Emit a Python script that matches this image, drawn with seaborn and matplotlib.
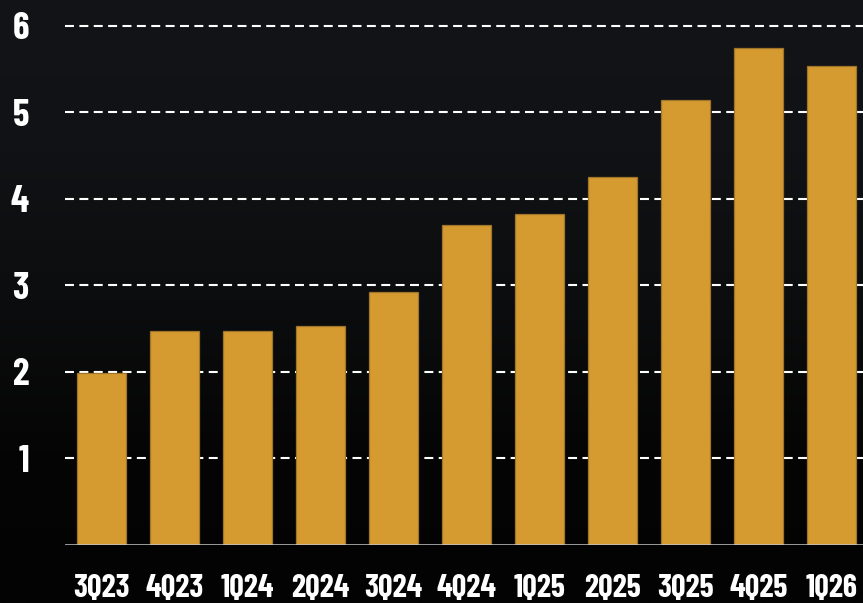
import numpy as np
import pandas as pd
import matplotlib
matplotlib.use("Agg")
import matplotlib.pyplot as plt
from matplotlib import font_manager as fm
from matplotlib.colors import LinearSegmentedColormap
import seaborn as sns

quarters = ["3Q23", "4Q23", "1Q24", "2Q24", "3Q24", "4Q24",
            "1Q25", "2Q25", "3Q25", "4Q25", "1Q26"]
values = [1.99, 2.47, 2.47, 2.53, 2.93, 3.70, 3.83, 4.25, 5.14, 5.75, 5.54]
y_ticks = [1, 2, 3, 4, 5, 6]

df = pd.DataFrame({"quarter": quarters, "value": values})

sns.set_theme(style="dark")

# tall condensed bold face for all labels
installed = {(f.name, f.weight if isinstance(f.weight, int) else 400)
             for f in fm.fontManager.ttflist}
family = "Barlow Condensed"
if any(n == "Oswald" and w >= 600 for n, w in installed):
    family = "Oswald"
plt.rcParams["font.family"] = [family, "DejaVu Sans"]

W, H = 863, 603
fig = plt.figure(figsize=(W / 100, H / 100), dpi=100)
fig.patch.set_facecolor("#0a0a0b")

# dark backdrop with a soft vertical shading
bg = fig.add_axes([0, 0, 1, 1], zorder=-10)
grad = np.linspace(0, 1, 256).reshape(-1, 1)
cmap = LinearSegmentedColormap.from_list(
    "bgshade", ["#131417", "#111215", "#0c0d0e", "#050505", "#030303"])
bg.imshow(grad, aspect="auto", cmap=cmap, extent=[0, 1, 0, 1])
bg.set_axis_off()

ax = fig.add_axes([65 / W, (H - 545) / H, 1 - 65 / W, 545 / H])
ax.set_facecolor("none")

sns.barplot(data=df, x="quarter", y="value", color="#D59B30",
            saturation=1, width=0.67, edgecolor="#a0742a", linewidth=0.9,
            ax=ax, zorder=3)

ax.set_ylim(0, 6.30)
ax.set_xlim(-0.5, -0.5 + (W - 65) / 73)
ax.set_yticks(y_ticks)
ax.set_yticklabels([str(t) for t in y_ticks])

for t in y_ticks:
    ax.axhline(t, color="white", linewidth=1.5,
               linestyle=(0, (4.3, 2.6)), zorder=1)
ax.axhline(0, color="#c8c8c8", linewidth=1.8, zorder=4)

ax.grid(False)
for s in ax.spines.values():
    s.set_visible(False)

ax.set_xlabel("")
ax.set_ylabel("")
ax.tick_params(axis="y", length=0, pad=26, labelsize=27, labelcolor="white")
ax.tick_params(axis="x", length=0, pad=21, labelsize=23, labelcolor="white")
for lab in ax.get_yticklabels() + ax.get_xticklabels():
    lab.set_fontweight("bold")

fig.savefig("out.png", dpi=100, facecolor=fig.get_facecolor())
